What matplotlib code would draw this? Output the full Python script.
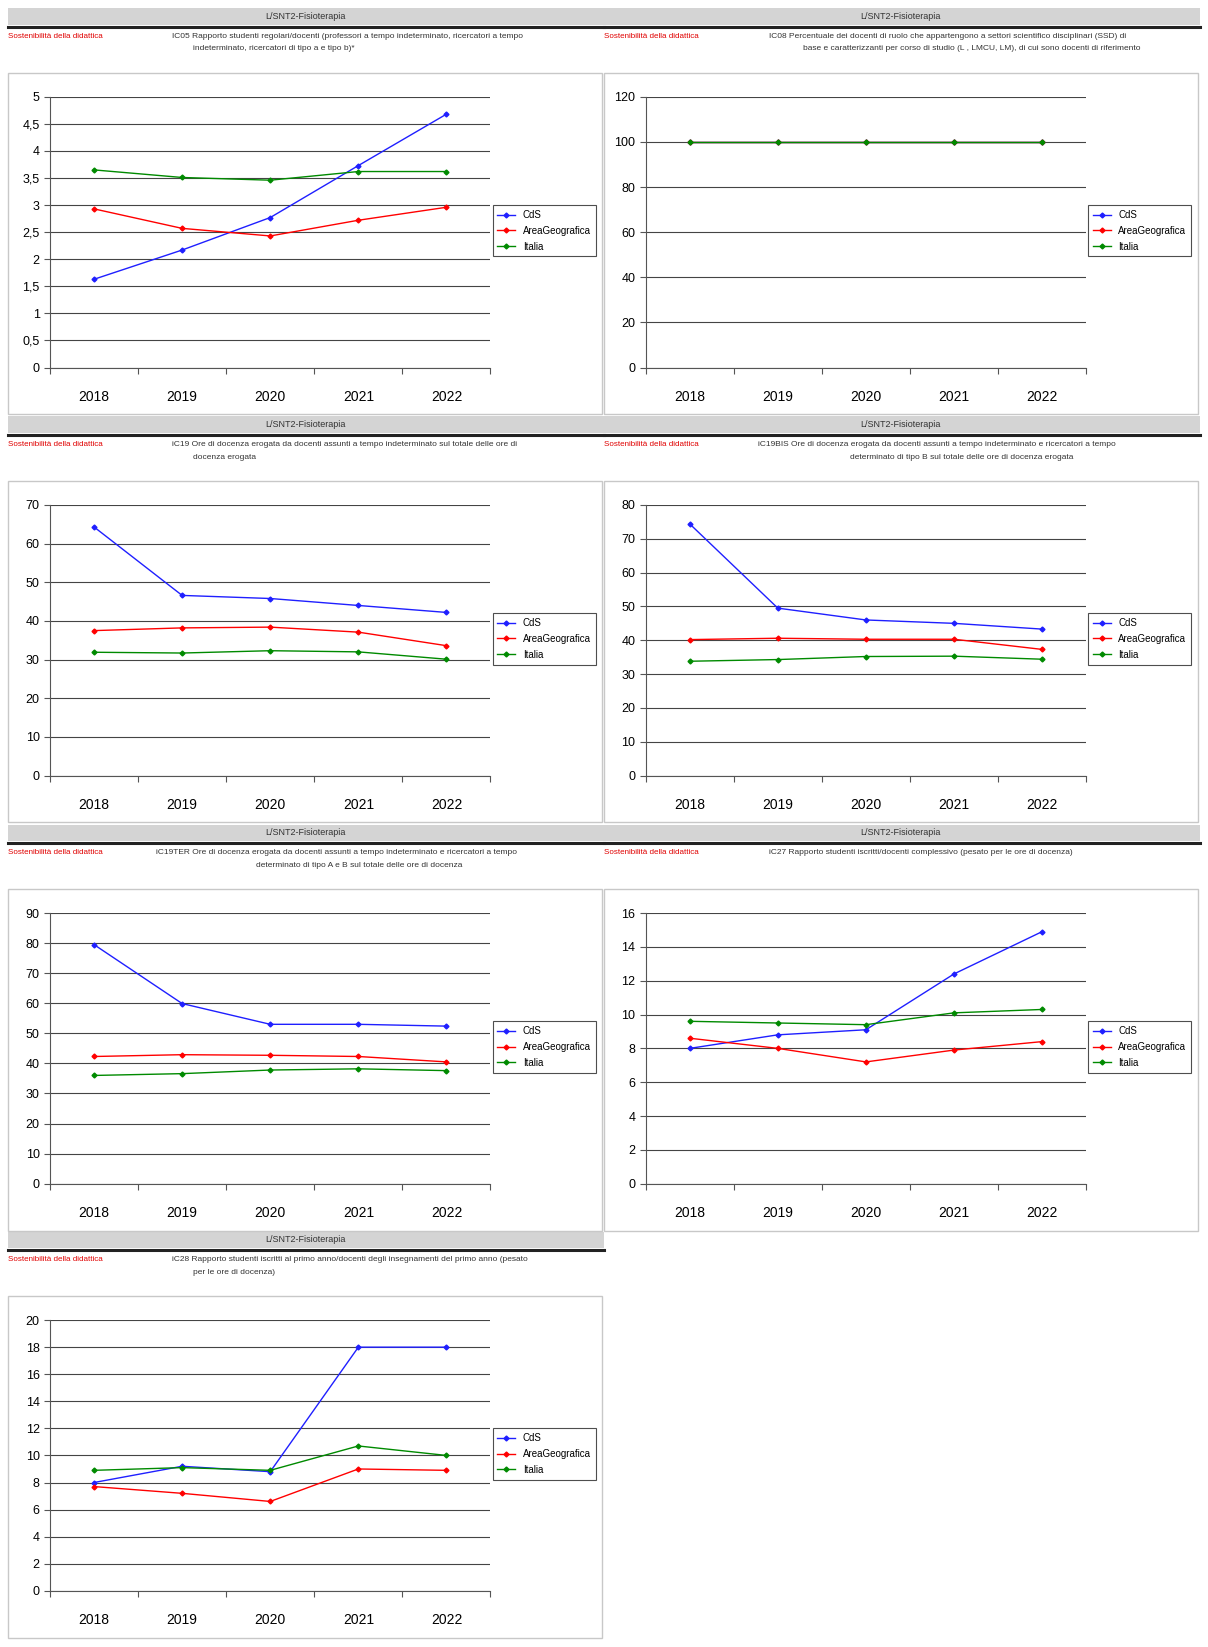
import matplotlib
matplotlib.use("Agg")
import matplotlib.pyplot as plt
from matplotlib.patches import Rectangle
from matplotlib.lines import Line2D
from matplotlib.ticker import FuncFormatter, MultipleLocator

plt.rcParams['font.family'] = ['Liberation Sans', 'DejaVu Sans']

years = ["2018", "2019", "2020", "2021", "2022"]
series_names = ["CdS", "AreaGeografica", "Italia"]
colors = ["#1f1fff", "#ff0000", "#008a00"]

ic05_cds = [1.63, 2.17, 2.77, 3.73, 4.68]
ic05_area = [2.93, 2.57, 2.43, 2.72, 2.96]
ic05_ita = [3.65, 3.51, 3.46, 3.62, 3.62]
ic08_cds = [100, 100, 100, 100, 100]
ic08_area = [100, 100, 100, 100, 100]
ic08_ita = [100, 100, 100, 100, 100]
ic19_cds = [64.3, 46.6, 45.8, 44.0, 42.2]
ic19_area = [37.5, 38.2, 38.4, 37.1, 33.6]
ic19_ita = [31.9, 31.7, 32.3, 32.0, 30.1]
ic19bis_cds = [74.4, 49.5, 46.0, 45.0, 43.3]
ic19bis_area = [40.2, 40.6, 40.3, 40.3, 37.3]
ic19bis_ita = [33.8, 34.3, 35.2, 35.3, 34.4]
ic19ter_cds = [79.5, 59.9, 53.0, 53.0, 52.4]
ic19ter_area = [42.3, 42.9, 42.7, 42.3, 40.5]
ic19ter_ita = [36.0, 36.6, 37.8, 38.2, 37.6]
ic27_cds = [8.0, 8.8, 9.1, 12.4, 14.9]
ic27_area = [8.6, 8.0, 7.2, 7.9, 8.4]
ic27_ita = [9.6, 9.5, 9.4, 10.1, 10.3]
ic28_cds = [8.0, 9.2, 8.8, 18.0, 18.0]
ic28_area = [7.7, 7.2, 6.6, 9.0, 8.9]
ic28_ita = [8.9, 9.1, 8.9, 10.7, 10.0]

header = "L/SNT2-Fisioterapia"
section = "Sostenibilità della didattica"

panels = [
    dict(x0=8, y0=8, sub=["IC05 Rapporto studenti regolari/docenti (professori a tempo indeterminato, ricercatori a tempo",
                          "indeterminato, ricercatori di tipo a e tipo b)*"], sx=165, center=False,
         data=[ic05_cds, ic05_area, ic05_ita], ymax=5, step=0.5, dec=True),
    dict(x0=580, y0=8, sub=["IC08 Percentuale dei docenti di ruolo che appartengono a settori scientifico disciplinari (SSD) di",
                            "base e caratterizzanti per corso di studio (L , LMCU, LM), di cui sono docenti di riferimento"], sx=738, center=True,
         data=[ic08_cds, ic08_area, ic08_ita], ymax=120, step=20, dec=False),
    dict(x0=8, y0=400, sub=["iC19 Ore di docenza erogata da docenti assunti a tempo indeterminato sul totale delle ore di",
                            "docenza erogata"], sx=165, center=False,
         data=[ic19_cds, ic19_area, ic19_ita], ymax=70, step=10, dec=False),
    dict(x0=580, y0=400, sub=["iC19BIS Ore di docenza erogata da docenti assunti a tempo indeterminato e ricercatori a tempo",
                              "determinato di tipo B sul totale delle ore di docenza erogata"], sx=728, center=True,
         data=[ic19bis_cds, ic19bis_area, ic19bis_ita], ymax=80, step=10, dec=False),
    dict(x0=8, y0=792, sub=["iC19TER Ore di docenza erogata da docenti assunti a tempo indeterminato e ricercatori a tempo",
                            "determinato di tipo A e B sul totale delle ore di docenza"], sx=150, center=True,
         data=[ic19ter_cds, ic19ter_area, ic19ter_ita], ymax=90, step=10, dec=False),
    dict(x0=580, y0=792, sub=["iC27 Rapporto studenti iscritti/docenti complessivo (pesato per le ore di docenza)"], sx=738, center=False,
         data=[ic27_cds, ic27_area, ic27_ita], ymax=16, step=2, dec=False),
    dict(x0=8, y0=1183, sub=["iC28 Rapporto studenti iscritti al primo anno/docenti degli insegnamenti del primo anno (pesato",
                             "per le ore di docenza)"], sx=165, center=False,
         data=[ic28_cds, ic28_area, ic28_ita], ymax=20, step=2, dec=False),
]

W, H = 1160.0, 1582.0
fig = plt.figure(figsize=(12.08, 16.47), dpi=100)

def fx(x): return x / W
def fy(y): return 1 - y / H
def rect(x, y, w, h):
    return [fx(x), fy(y + h), w / W, h / H]

for p in panels:
    x0, y0 = p['x0'], p['y0']
    fig.patches.append(Rectangle((fx(x0), fy(y0 + 16)), 572 / W, 16 / H, transform=fig.transFigure,
                                 facecolor="#d4d4d4", edgecolor="none", zorder=-2))
    fig.lines.append(Line2D([fx(x0), fx(x0 + 572)], [fy(y0 + 17.5)] * 2, transform=fig.transFigure,
                            color="#222222", lw=2.2, zorder=-2))
    fig.text(fx(x0 + 285), fy(y0 + 8), header, ha="center", va="center", fontsize=6.5, color="#333333")
    fig.text(fx(x0), fy(y0 + 27), section, ha="left", va="center", fontsize=5.8, color="#e00000")
    for i, line in enumerate(p['sub']):
        if p['center'] and i > 0:
            fig.text(fx(p['sx'] + 195), fy(y0 + 27 + 12 * i), line, ha="center", va="center", fontsize=6, color="#333333")
        else:
            xx = p['sx'] if i == 0 else p['sx'] + 20
            fig.text(fx(xx), fy(y0 + 27 + 12 * i), line, ha="left", va="center", fontsize=6, color="#333333")
    fig.patches.append(Rectangle((fx(x0), fy(y0 + 390)), 570 / W, 328 / H, transform=fig.transFigure,
                                 facecolor="white", edgecolor="#c8c8c8", lw=1, zorder=-1))
    ax = fig.add_axes(rect(x0 + 40, y0 + 85, 423, 260))
    ax.patch.set_alpha(0)
    xs = list(range(len(years)))
    for vals, c, n in zip(p['data'], colors, series_names):
        ax.plot(xs, vals, color=c, lw=1, marker="D", ms=2.5, label=n)
    ax.set_xlim(-0.5, 4.5)
    ax.set_ylim(0, p['ymax'])
    ax.yaxis.set_major_locator(MultipleLocator(p['step']))
    if p['dec']:
        ax.yaxis.set_major_formatter(FuncFormatter(lambda v, _: f"{v:g}".replace(".", ",")))
    ax.grid(axis="y", color="#444444", lw=0.8)
    ax.set_axisbelow(True)
    ax.set_xticks([i + 0.5 for i in range(-1, 5)])
    ax.set_xticklabels([])
    ax.set_xticks(xs, minor=True)
    ax.set_xticklabels(years, minor=True, fontsize=10)
    ax.tick_params(axis="x", which="minor", length=0, pad=16)
    ax.tick_params(axis="x", which="major", length=4, direction="out", color="#555555")
    ax.tick_params(axis="y", length=4, direction="out", labelsize=9, color="#555555")
    for s in ["top", "right"]:
        ax.spines[s].set_visible(False)
    ax.spines["left"].set_color("#555555")
    ax.spines["bottom"].set_color("#555555")
    leg = fig.legend(*ax.get_legend_handles_labels(), loc="upper left",
                     bbox_to_anchor=(fx(x0 + 465), fy(y0 + 189)), fontsize=7,
                     frameon=True, fancybox=False, edgecolor="#222222", borderpad=0.5,
                     handlelength=1.8, labelspacing=0.6, borderaxespad=0)
    leg.get_frame().set_linewidth(0.8)

fig.savefig("out.png", dpi=100, facecolor="white")
